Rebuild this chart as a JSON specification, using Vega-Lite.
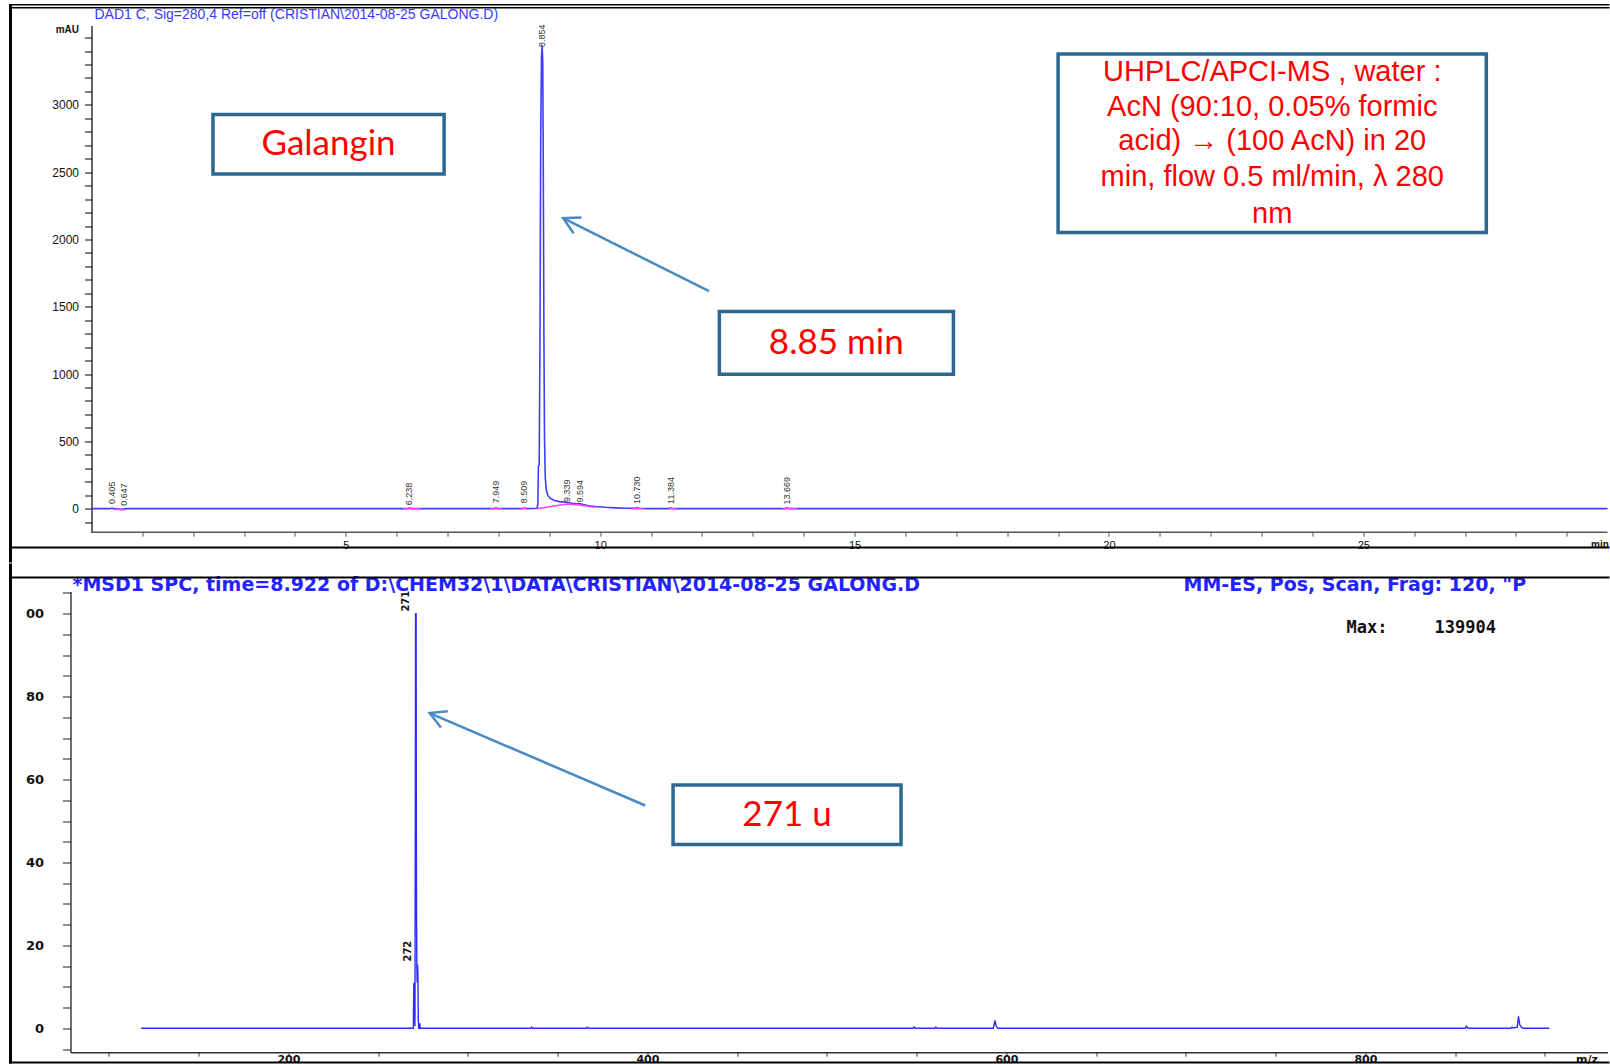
{
  "$schema": "https://vega.github.io/schema/vega-lite/v6.json",
  "background": "white",
  "padding": {"left": 8.5, "top": 3.5, "right": 0, "bottom": 0},
  "columns": 1,
  "spacing": 0,
  "config": {"view": {"stroke": null}, "axis": {"grid": false}},
  "concat": [
    {
      "width": 1537,
      "height": 506.7,
      "layer": [
        {
          "data": {"values": [
            {"t":0,"v":0},{"t":0.36,"v":0},{"t":0.405,"v":5},{"t":0.45,"v":0},{"t":0.6,"v":-5},{"t":0.647,"v":-2},{"t":0.7,"v":0},
            {"t":6.2,"v":0},{"t":6.238,"v":4},{"t":6.3,"v":0},
            {"t":7.91,"v":0},{"t":7.949,"v":6},{"t":8.0,"v":0},
            {"t":8.47,"v":0},{"t":8.509,"v":5},{"t":8.56,"v":0},
            {"t":8.76,"v":3},{"t":8.775,"v":40},{"t":8.785,"v":315},{"t":8.8,"v":325},{"t":8.815,"v":1200},{"t":8.83,"v":2750},{"t":8.845,"v":3350},{"t":8.858,"v":3437},{"t":8.87,"v":3320},{"t":8.88,"v":2600},{"t":8.893,"v":1300},{"t":8.905,"v":520},{"t":8.92,"v":230},{"t":8.94,"v":140},{"t":8.97,"v":98},{"t":9.02,"v":76},{"t":9.1,"v":60},{"t":9.2,"v":52},{"t":9.339,"v":47},{"t":9.45,"v":40},{"t":9.53,"v":36},{"t":9.594,"v":38},{"t":9.65,"v":32},{"t":9.75,"v":24},{"t":9.9,"v":16},{"t":10.1,"v":10},{"t":10.3,"v":6},{"t":10.5,"v":3},{"t":10.69,"v":2},{"t":10.73,"v":6},{"t":10.78,"v":1},{"t":11.0,"v":0},
            {"t":11.35,"v":0},{"t":11.384,"v":6},{"t":11.43,"v":0},
            {"t":13.63,"v":0},{"t":13.669,"v":6},{"t":13.72,"v":0},
            {"t":29.8,"v":0}
          ]},
          "mark": {"type": "line", "color": "#3d3dff", "strokeWidth": 1.6},
          "encoding": {
            "x": {"field": "t", "type": "quantitative", "scale": {"domain": [-0.4128, 29.8], "nice": false, "zero": false},
              "axis": {"title": "min", "titleX": 1520, "titleY": 12, "titleAlign": "left", "titleBaseline": "middle", "titleFontSize": 10, "titleFontWeight": "bold", "titleFont": "Liberation Sans", "titleColor": "#111",
                "values": [1,2,3,4,5,6,7,8,9,10,11,12,13,14,15,16,17,18,19,20,21,22,23,24,25,26,27,28,29], "tickCount": 200, "format": "d",
                "labelExpr": "datum.value % 5 === 0 ? datum.label : ''", "labelFlush": false, "labelOverlap": false,
                "domain": false, "tickSize": 4, "labelPadding": 3, "labelFontSize": 11, "labelFont": "Liberation Sans", "labelColor": "#111",
                "tickColor": "#555"}},
            "y": {"field": "v", "type": "quantitative", "scale": {"domain": [-175, 3590], "nice": false, "zero": false},
              "axis": {"title": "mAU", "offset": -21, "titleAngle": 0, "titleAlign": "right", "titleBaseline": "middle", "titleX": -13, "titleY": 4, "titleFontSize": 10, "titleFontWeight": "bold", "titleFont": "Liberation Sans", "titleColor": "#111",
                "values": [-100,0,100,200,300,400,500,600,700,800,900,1000,1100,1200,1300,1400,1500,1600,1700,1800,1900,2000,2100,2200,2300,2400,2500,2600,2700,2800,2900,3000,3100,3200,3300,3400,3500], "tickCount": 200,
                "labelExpr": "(datum.value % 500 === 0 && datum.value <= 3000) ? datum.label : ''", "format": "d", "labelOverlap": false,
                "tickSize": 7, "labelPadding": 6, "labelFontSize": 12, "labelFont": "Liberation Sans", "labelColor": "#111",
                "domainColor": "#000", "domainWidth": 1.2, "tickColor": "#000"}}
          }
        },
        {
          "data": {"values": [
            {"t":0,"t2":29.8,"v":-175}
          ]},
          "mark": {"type": "rule", "color": "#555", "strokeWidth": 1.5},
          "encoding": {
            "x": {"field": "t", "type": "quantitative", "scale": {"domain": [-0.4128, 29.8], "nice": false, "zero": false}},
            "x2": {"field": "t2"},
            "y": {"field": "v", "type": "quantitative", "scale": {"domain": [-175, 3590], "nice": false, "zero": false}}
          }
        },
        {
          "data": {"values": [
            {"t":0.42,"v":-4,"s":"a"},{"t":0.66,"v":-8,"s":"a"},
            {"t":6.13,"v":0,"s":"b"},{"t":6.47,"v":0,"s":"b"},
            {"t":7.84,"v":0,"s":"c"},{"t":8.07,"v":0,"s":"c"},
            {"t":8.43,"v":0,"s":"d"},{"t":8.56,"v":0,"s":"d"},
            {"t":8.76,"v":0,"s":"e"},{"t":9.339,"v":34,"s":"e"},{"t":9.594,"v":27,"s":"e"},{"t":9.9,"v":10,"s":"e"},
            {"t":10.63,"v":0,"s":"f"},{"t":10.86,"v":0,"s":"f"},
            {"t":11.34,"v":0,"s":"g"},{"t":11.51,"v":0,"s":"g"},
            {"t":13.58,"v":0,"s":"h"},{"t":13.87,"v":0,"s":"h"}
          ]},
          "mark": {"type": "line", "color": "#ff3cff", "strokeWidth": 1.5},
          "encoding": {
            "x": {"field": "t", "type": "quantitative", "scale": {"domain": [-0.4128, 29.8], "nice": false, "zero": false}},
            "y": {"field": "v", "type": "quantitative", "scale": {"domain": [-175, 3590], "nice": false, "zero": false}},
            "detail": {"field": "s"}
          }
        },
        {
          "data": {"values": [
            {"t":0.405,"v":35,"lab":"0.405"},{"t":0.647,"v":22,"lab":"0.647"},{"t":6.238,"v":25,"lab":"6.238"},{"t":7.949,"v":40,"lab":"7.949"},{"t":8.509,"v":40,"lab":"8.509"},{"t":8.854,"v":3430,"lab":"8.854"},{"t":9.339,"v":50,"lab":"9.339"},{"t":9.594,"v":45,"lab":"9.594"},{"t":10.73,"v":35,"lab":"10.730"},{"t":11.384,"v":35,"lab":"11.384"},{"t":13.669,"v":30,"lab":"13.669"}
          ]},
          "mark": {"type": "text", "angle": 270, "align": "left", "baseline": "middle", "font": "Liberation Sans", "fontSize": 9, "color": "#333"},
          "encoding": {
            "x": {"field": "t", "type": "quantitative", "scale": {"domain": [-0.4128, 29.8], "nice": false, "zero": false}},
            "y": {"field": "v", "type": "quantitative", "scale": {"domain": [-175, 3590], "nice": false, "zero": false}},
            "text": {"field": "lab"}
          }
        },
        {
          "data": {"values": [
            {"t":0.059,"v":3671.7,"lab":"DAD1 C, Sig=280,4 Ref=off (CRISTIAN\\2014-08-25 GALONG.D)"}
          ]},
          "mark": {"type": "text", "align": "left", "baseline": "middle", "font": "Liberation Sans", "fontSize": 14, "color": "#3a3aff"},
          "encoding": {
            "x": {"field": "t", "type": "quantitative", "scale": {"domain": [-0.4128, 29.8], "nice": false, "zero": false}},
            "y": {"field": "v", "type": "quantitative", "scale": {"domain": [-175, 3590], "nice": false, "zero": false}},
            "text": {"field": "lab"}
          }
        },
        {
          "data": {"values": [
            {"t":-1.6217,"t2":29.8392,"v":3749.75,"v2":3738.6},
            {"t":-1.6217,"t2":29.8392,"v":3727.5,"v2":3716.3},
            {"t":-1.6217,"t2":29.8392,"v":-281.2,"v2":-296.1},
            {"t":-1.6217,"t2":-1.5628,"v":3749.75,"v2":-400.1}
          ]},
          "mark": {"type": "rect", "fill": "#000", "strokeWidth": 0},
          "encoding": {
            "x": {"field": "t", "type": "quantitative", "scale": {"domain": [-0.4128, 29.8], "nice": false, "zero": false}},
            "x2": {"field": "t2"},
            "y": {"field": "v", "type": "quantitative", "scale": {"domain": [-175, 3590], "nice": false, "zero": false}},
            "y2": {"field": "v2"}
          }
        },
        {
          "data": {"values": [
            {"t":2.388,"t2":6.931,"v":2928.7,"v2":2486.6},
            {"t":12.341,"t2":16.943,"v":1464.9,"v2":998.3},
            {"t":19.0,"t2":27.418,"v":3379,"v2":2051.9}
          ]},
          "mark": {"type": "rect", "fill": "white", "stroke": "#2e6891", "strokeWidth": 3.5},
          "encoding": {
            "x": {"field": "t", "type": "quantitative", "scale": {"domain": [-0.4128, 29.8], "nice": false, "zero": false}},
            "x2": {"field": "t2"},
            "y": {"field": "v", "type": "quantitative", "scale": {"domain": [-175, 3590], "nice": false, "zero": false}},
            "y2": {"field": "v2"}
          }
        },
        {
          "data": {"values": [
            {"t":4.66,"v":2707.6,"lab":"Galangin"},
            {"t":14.64,"v":1231.6,"lab":"8.85 min"}
          ]},
          "mark": {"type": "text", "align": "center", "baseline": "middle", "font": "Lato", "fontSize": 35, "color": "#ff0000"},
          "encoding": {
            "x": {"field": "t", "type": "quantitative", "scale": {"domain": [-0.4128, 29.8], "nice": false, "zero": false}},
            "y": {"field": "v", "type": "quantitative", "scale": {"domain": [-175, 3590], "nice": false, "zero": false}},
            "text": {"field": "lab"}
          }
        },
        {
          "data": {"values": [
            {"t":23.21,"v":3243,"lab":"UHPLC/APCI-MS , water :"},
            {"t":23.21,"v":2983,"lab":"AcN  (90:10, 0.05% formic"},
            {"t":23.21,"v":2735.5,"lab":"acid) → (100 AcN) in 20"},
            {"t":23.21,"v":2462.8,"lab":"min, flow 0.5 ml/min, λ 280"},
            {"t":23.21,"v":2190.9,"lab":"nm"}
          ]},
          "mark": {"type": "text", "align": "center", "baseline": "middle", "font": "Liberation Sans", "fontSize": 29, "color": "#ff0000"},
          "encoding": {
            "x": {"field": "t", "type": "quantitative", "scale": {"domain": [-0.4128, 29.8], "nice": false, "zero": false}},
            "y": {"field": "v", "type": "quantitative", "scale": {"domain": [-175, 3590], "nice": false, "zero": false}},
            "text": {"field": "lab"}
          }
        },
        {
          "data": {"values": [
            {"t":12.138,"t2":9.272,"v":1616.5,"v2":2158}
          ]},
          "mark": {"type": "rule", "color": "#4a8ac4", "strokeWidth": 2.5},
          "encoding": {
            "x": {"field": "t", "type": "quantitative", "scale": {"domain": [-0.4128, 29.8], "nice": false, "zero": false}},
            "x2": {"field": "t2"},
            "y": {"field": "v", "type": "quantitative", "scale": {"domain": [-175, 3590], "nice": false, "zero": false}},
            "y2": {"field": "v2"}
          }
        },
        {
          "data": {"values": [
            {"t":9.272,"v":2158}
          ]},
          "mark": {"type": "point", "shape": "M -1 -0.55 L 0 0 L -1 0.55", "filled": false, "color": "#4a8ac4", "stroke": "#4a8ac4", "strokeWidth": 2.5, "size": 1024, "angle": 206.6, "opacity": 1},
          "encoding": {
            "x": {"field": "t", "type": "quantitative", "scale": {"domain": [-0.4128, 29.8], "nice": false, "zero": false}},
            "y": {"field": "v", "type": "quantitative", "scale": {"domain": [-175, 3590], "nice": false, "zero": false}}
          }
        }
      ]
    },
    {
      "width": 1537,
      "height": 460.7,
      "layer": [
        {
          "data": {"values": [
            {"m":118,"i":0},{"m":335,"i":0},{"m":335.5,"i":0.3},{"m":336,"i":0},{"m":366,"i":0},{"m":366.5,"i":0.3},{"m":367,"i":0},
            {"m":269.6,"i":0},{"m":269.9,"i":10.8},{"m":270.3,"i":10.8},{"m":270.5,"i":0.5},{"m":270.7,"i":50},{"m":270.85,"i":100},{"m":271.15,"i":100},{"m":271.35,"i":30},{"m":271.55,"i":15.5},{"m":271.75,"i":11},{"m":271.95,"i":15.4},{"m":272.15,"i":13.5},{"m":272.35,"i":2},{"m":272.6,"i":0},{"m":273.0,"i":0},{"m":273.2,"i":1.2},{"m":273.4,"i":0},
            {"m":548,"i":0},{"m":548.6,"i":0.35},{"m":549.2,"i":0},{"m":560.1,"i":0},{"m":560.7,"i":0.3},{"m":561.3,"i":0},
            {"m":592.8,"i":0},{"m":593.6,"i":1.9},{"m":594.3,"i":0.6},{"m":595.2,"i":0},
            {"m":855.6,"i":0},{"m":856.4,"i":0.5},{"m":857.2,"i":0},
            {"m":881.0,"i":0},{"m":881.7,"i":0.3},{"m":882.3,"i":0.1},{"m":884.6,"i":0.3},{"m":885.3,"i":2.9},{"m":886.0,"i":0.9},{"m":887.0,"i":0.2},{"m":888.0,"i":0},{"m":902.5,"i":0}
          ]},
          "mark": {"type": "line", "color": "#2b2bff", "strokeWidth": 1.4},
          "encoding": {
            "x": {"field": "m", "type": "quantitative", "scale": {"domain": [78.6, 934.9], "nice": false, "zero": false},
              "axis": {"title": "m/z", "titleX": 1505, "titleY": 7, "titleAlign": "left", "titleBaseline": "middle", "titleFontSize": 11, "titleFontWeight": "bold", "titleFont": "DejaVu Sans", "titleColor": "#111",
                "values": [100,150,200,250,300,350,400,450,500,550,600,650,700,750,800,850,900], "tickCount": 200,
                "labelExpr": "datum.value % 200 === 0 ? datum.label : ''", "labelFlush": false, "labelOverlap": false, "format": "d",
                "tickSize": 4, "labelPadding": 3, "labelBaseline": "middle", "labelFontSize": 11, "labelFont": "DejaVu Sans", "labelFontWeight": "bold", "labelColor": "#111",
                "domainColor": "#333", "domainWidth": 1.5, "tickColor": "#333"}},
            "y": {"field": "i", "type": "quantitative", "scale": {"domain": [-5.76, 105.35], "nice": false, "zero": false},
              "axis": {"title": null,
                "values": [-5,0,5,10,15,20,25,30,35,40,45,50,55,60,65,70,75,80,85,90,95,100,105], "tickCount": 200,
                "labelExpr": "datum.value === 100 ? '00' : (datum.value % 20 === 0 ? datum.label : '')", "labelOverlap": false, "format": "d",
                "tickSize": 8, "labelPadding": 19, "labelFontSize": 13, "labelFont": "DejaVu Sans", "labelFontWeight": "bold", "labelColor": "#111",
                "domainColor": "#222", "domainWidth": 1.3, "tickColor": "#222"}}
          }
        },
        {
          "data": {"values": [
            {"m":271,"i":100.5,"lab":"271"},
            {"m":272,"i":16.1,"lab":"272"}
          ]},
          "mark": {"type": "text", "angle": 270, "align": "left", "baseline": "middle", "dy": -10, "font": "DejaVu Sans", "fontWeight": "bold", "fontSize": 10, "color": "#111"},
          "encoding": {
            "x": {"field": "m", "type": "quantitative", "scale": {"domain": [78.6, 934.9], "nice": false, "zero": false}},
            "y": {"field": "i", "type": "quantitative", "scale": {"domain": [-5.76, 105.35], "nice": false, "zero": false}},
            "text": {"field": "lab"}
          }
        },
        {
          "data": {"values": [
            {"m":79.7,"i":107.0,"lab":"*MSD1 SPC, time=8.922 of D:\\CHEM32\\1\\DATA\\CRISTIAN\\2014-08-25 GALONG.D"},
            {"m":698.7,"i":107.0,"lab":"MM-ES, Pos, Scan, Frag: 120, \"P"}
          ]},
          "mark": {"type": "text", "align": "left", "baseline": "middle", "font": "DejaVu Sans", "fontWeight": "bold", "fontSize": 19, "color": "#2323ff"},
          "encoding": {
            "x": {"field": "m", "type": "quantitative", "scale": {"domain": [78.6, 934.9], "nice": false, "zero": false}},
            "y": {"field": "i", "type": "quantitative", "scale": {"domain": [-5.76, 105.35], "nice": false, "zero": false}},
            "text": {"field": "lab"}
          }
        },
        {
          "data": {"values": [
            {"m":789.5,"i":96.43,"lab":"Max:"},
            {"m":838.5,"i":96.43,"lab":"139904"}
          ]},
          "mark": {"type": "text", "align": "left", "baseline": "middle", "font": "DejaVu Sans Mono", "fontWeight": "bold", "fontSize": 17, "color": "#111"},
          "encoding": {
            "x": {"field": "m", "type": "quantitative", "scale": {"domain": [78.6, 934.9], "nice": false, "zero": false}},
            "y": {"field": "i", "type": "quantitative", "scale": {"domain": [-5.76, 105.35], "nice": false, "zero": false}},
            "text": {"field": "lab"}
          }
        },
        {
          "data": {"values": [
            {"m":44.337,"m2":46.008,"i":112.103,"i2":-8.485},
            {"m":44.337,"m2":936.01,"i":108.968,"i2":108.485},
            {"m":44.337,"m2":936.01,"i":-8.003,"i2":-8.485}
          ]},
          "mark": {"type": "rect", "fill": "#000", "strokeWidth": 0},
          "encoding": {
            "x": {"field": "m", "type": "quantitative", "scale": {"domain": [78.6, 934.9], "nice": false, "zero": false}},
            "x2": {"field": "m2"},
            "y": {"field": "i", "type": "quantitative", "scale": {"domain": [-5.76, 105.35], "nice": false, "zero": false}},
            "y2": {"field": "i2"}
          }
        },
        {
          "data": {"values": [
            {"m":414.3,"m2":541.3,"i":58.68,"i2":44.33}
          ]},
          "mark": {"type": "rect", "fill": "white", "stroke": "#2e6891", "strokeWidth": 3.5},
          "encoding": {
            "x": {"field": "m", "type": "quantitative", "scale": {"domain": [78.6, 934.9], "nice": false, "zero": false}},
            "x2": {"field": "m2"},
            "y": {"field": "i", "type": "quantitative", "scale": {"domain": [-5.76, 105.35], "nice": false, "zero": false}},
            "y2": {"field": "i2"}
          }
        },
        {
          "data": {"values": [
            {"m":477.8,"i":51.5,"lab":"271 u"}
          ]},
          "mark": {"type": "text", "align": "center", "baseline": "middle", "font": "Lato", "fontSize": 35, "color": "#ff0000"},
          "encoding": {
            "x": {"field": "m", "type": "quantitative", "scale": {"domain": [78.6, 934.9], "nice": false, "zero": false}},
            "y": {"field": "i", "type": "quantitative", "scale": {"domain": [-5.76, 105.35], "nice": false, "zero": false}},
            "text": {"field": "lab"}
          }
        },
        {
          "data": {"values": [
            {"m":398.8,"m2":278.7,"i":53.74,"i2":76.02}
          ]},
          "mark": {"type": "rule", "color": "#4a8ac4", "strokeWidth": 2.5},
          "encoding": {
            "x": {"field": "m", "type": "quantitative", "scale": {"domain": [78.6, 934.9], "nice": false, "zero": false}},
            "x2": {"field": "m2"},
            "y": {"field": "i", "type": "quantitative", "scale": {"domain": [-5.76, 105.35], "nice": false, "zero": false}},
            "y2": {"field": "i2"}
          }
        },
        {
          "data": {"values": [
            {"m":278.7,"i":76.02}
          ]},
          "mark": {"type": "point", "shape": "M -1 -0.55 L 0 0 L -1 0.55", "filled": false, "color": "#4a8ac4", "stroke": "#4a8ac4", "strokeWidth": 2.5, "size": 1024, "angle": 203.2, "opacity": 1},
          "encoding": {
            "x": {"field": "m", "type": "quantitative", "scale": {"domain": [78.6, 934.9], "nice": false, "zero": false}},
            "y": {"field": "i", "type": "quantitative", "scale": {"domain": [-5.76, 105.35], "nice": false, "zero": false}}
          }
        }
      ]
    }
  ]
}
